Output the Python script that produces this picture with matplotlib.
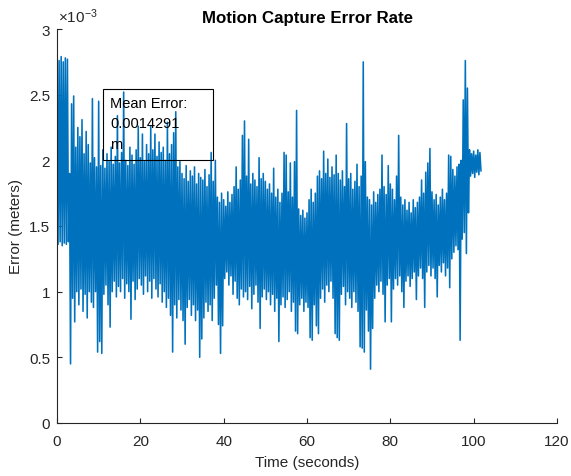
import numpy as np
import matplotlib
matplotlib.use("Agg")
import matplotlib.pyplot as plt
from matplotlib.patches import Rectangle

plt.rcParams['font.family'] = ['Liberation Sans', 'DejaVu Sans']
plt.rcParams['mathtext.fontset'] = 'custom'
plt.rcParams['mathtext.rm'] = 'Liberation Sans'
plt.rcParams['mathtext.it'] = 'Liberation Sans'

# Error values (x 1e-3 m): upper swing at t, lower swing at t + 0.25 s, t = 0, 0.5, ... 101.5 s
err_hi = [
    2.78, 2.76, 2.79, 2.75, 2.78, 2.77, 1.90, 2.43, 2.49, 2.10,
    2.25, 2.18, 2.31, 2.05, 2.22, 2.12, 1.98, 2.47, 2.02, 1.95,
    2.45, 1.96, 2.08, 1.94, 2.05, 1.99, 2.10, 1.97, 2.03, 2.34,
    1.98, 2.06, 2.52, 2.00, 1.96, 2.10, 2.04, 1.97, 2.08, 2.26,
    2.02, 2.20, 1.99, 2.12, 2.05, 2.26, 2.08, 2.20, 2.03, 2.14,
    2.06, 2.10, 2.00, 2.29, 2.05, 2.12, 2.21, 2.37, 1.95, 1.99,
    1.90, 1.86, 1.96, 1.84, 1.92, 1.88, 1.95, 1.82, 1.90, 1.87,
    1.85, 1.93, 1.80, 1.89, 2.06, 1.84, 2.00, 1.72, 1.68, 1.75,
    1.70, 1.65, 1.76, 1.68, 1.74, 1.80, 1.95, 1.78, 1.85, 2.19,
    2.30, 1.88, 2.16, 1.82, 1.90, 1.85, 1.80, 2.02, 1.86, 1.90,
    1.84, 1.78, 1.82, 1.75, 1.94, 1.72, 1.78, 1.68, 1.75, 2.06,
    2.04, 1.76, 1.98, 1.72, 1.99, 2.38, 1.63, 1.58, 1.62, 1.56,
    1.60, 1.70, 1.78, 1.68, 1.75, 1.88, 1.92, 1.86, 2.07, 1.90,
    2.01, 1.87, 1.95, 1.89, 2.04, 1.90, 1.85, 1.92, 1.80, 2.28,
    1.86, 1.90, 1.78, 1.84, 1.97, 1.80, 1.88, 2.75, 1.99, 1.72,
    1.70, 1.66, 1.76, 1.68, 1.74, 1.78, 2.04, 1.80, 1.74, 1.96,
    1.82, 1.78, 1.70, 1.88, 2.19, 1.72, 1.66, 1.70, 1.62, 1.68,
    1.60, 1.70, 1.64, 1.68, 1.72, 1.85, 1.75, 1.91, 1.98, 2.09,
    1.76, 1.70, 1.74, 1.66, 1.72, 1.78, 1.70, 1.75, 2.04, 2.03,
    1.93, 1.88, 1.95, 1.97, 2.00, 2.46, 2.76, 2.55, 2.08, 2.05,
    2.07, 2.04, 2.08, 2.06,
]
err_lo = [
    1.36, 1.38, 1.35, 1.37, 1.36, 1.38, 0.45, 0.95, 0.77, 1.00,
    0.90, 1.02, 0.85, 0.98, 0.80, 1.00, 0.92, 0.88, 1.00, 0.54,
    0.62, 0.53, 0.98, 1.05, 0.90, 0.73, 1.00, 1.08, 0.96, 1.04,
    1.00, 1.10, 0.95, 1.06, 1.00, 0.79, 1.08, 0.94, 1.02, 1.10,
    1.05, 0.98, 1.12, 1.00, 1.08, 0.95, 1.10, 1.02, 0.96, 1.06,
    0.92, 1.00, 0.88, 0.95, 0.82, 0.54, 0.90, 0.80, 0.94, 0.86,
    0.78, 0.60, 0.88, 0.94, 0.82, 0.90, 0.78, 0.86, 0.50, 0.64,
    0.80, 0.92, 0.85, 0.90, 0.78, 0.95, 1.05, 0.75, 0.53, 0.74,
    1.10, 1.15, 1.05, 1.12, 0.98, 1.08, 0.95, 0.90, 1.02, 0.96,
    1.00, 0.94, 1.04, 0.87, 0.98, 1.05, 0.92, 0.72, 0.96, 1.02,
    0.94, 1.00, 0.90, 0.98, 0.85, 0.95, 0.62, 0.90, 0.96, 0.88,
    0.94, 1.00, 0.85, 0.92, 0.70, 0.68, 0.90, 0.95, 0.85, 0.92,
    0.88, 0.65, 0.63, 0.90, 0.74, 0.68, 0.95, 1.02, 0.92, 1.05,
    1.00, 1.08, 0.95, 0.68, 0.65, 0.63, 0.98, 1.04, 0.90, 1.00,
    0.95, 0.88, 1.00, 0.92, 0.85, 0.58, 0.57, 0.54, 0.86, 0.70,
    0.41, 0.72, 0.95, 1.05, 1.00, 1.08, 0.98, 0.77, 1.05, 1.10,
    0.77, 1.02, 1.10, 1.05, 1.12, 1.00, 0.88, 1.08, 1.12, 1.04,
    1.10, 1.15, 0.94, 1.12, 1.18, 1.10, 0.88, 1.15, 1.20, 1.12,
    1.18, 1.10, 0.96, 1.20, 1.15, 1.22, 1.12, 1.18, 1.03, 1.25,
    1.30, 1.35, 1.32, 0.63, 1.40, 1.45, 1.29, 1.60, 1.88, 1.90,
    1.87, 1.91, 1.89, 1.92,
]
sample_step = 0.5  # seconds between successive upper swings
x_ticks = [0, 20, 40, 60, 80, 100, 120]
y_ticks = [0, 0.5, 1, 1.5, 2, 2.5, 3]
y_tick_labels = ['0', '0.5', '1', '1.5', '2', '2.5', '3']
mean_error_text = "Mean Error:\n0.0014291\nm"

n = len(err_hi)
t_hi = np.arange(n) * sample_step
t_lo = t_hi + sample_step / 2
t = np.empty(2 * n)
y = np.empty(2 * n)
t[0::2] = t_hi
t[1::2] = t_lo
y[0::2] = err_hi
y[1::2] = err_lo

W, H = 571, 477
fig = plt.figure(figsize=(W / 100, H / 100), dpi=100)
ax = fig.add_axes([57 / W, 1 - 424 / H, 500 / W, 394 / H])

ax.plot(t, y, color='#0072BD', lw=1.15)

dark = '#262626'
ax.set_xlim(0, 120)
ax.set_ylim(0, 3)
ax.set_xticks(x_ticks)
ax.set_yticks(y_ticks)
ax.set_yticklabels(y_tick_labels)
for s in ['top', 'right']:
    ax.spines[s].set_visible(False)
for s in ['left', 'bottom']:
    ax.spines[s].set_color(dark)
    ax.spines[s].set_linewidth(0.8)
ax.tick_params(direction='in', length=3.5, width=0.8, color=dark,
               labelcolor=dark, labelsize=11)
ax.tick_params(axis='x', pad=8)
ax.tick_params(axis='y', pad=5)

ax.set_xlabel('Time (seconds)', fontsize=11, color=dark, labelpad=5)
ax.set_ylabel('Error (meters)', fontsize=11, color=dark, labelpad=4)
ax.set_title('Motion Capture Error Rate', fontsize=12.2, fontweight='bold',
             color='black', pad=5)

ax.text(0.002, 1.01, r'$\times10^{-3}$', transform=ax.transAxes,
        fontsize=11, color=dark, ha='left', va='bottom')

# annotation box
x0, x1 = 11.04 / 120, 37.44 / 120
y0, y1 = 2.003 / 3, 2.544 / 3
ax.add_patch(Rectangle((x0, y0), x1 - x0, y1 - y0, transform=ax.transAxes,
                       fill=False, edgecolor='black', lw=0.8, zorder=5))
ax.text(x0 + 0.014, y1 - 0.017, mean_error_text, transform=ax.transAxes,
        fontsize=10.5, color='black', ha='left', va='top', linespacing=1.62,
        zorder=6)

fig.savefig('out.png', dpi=100)
